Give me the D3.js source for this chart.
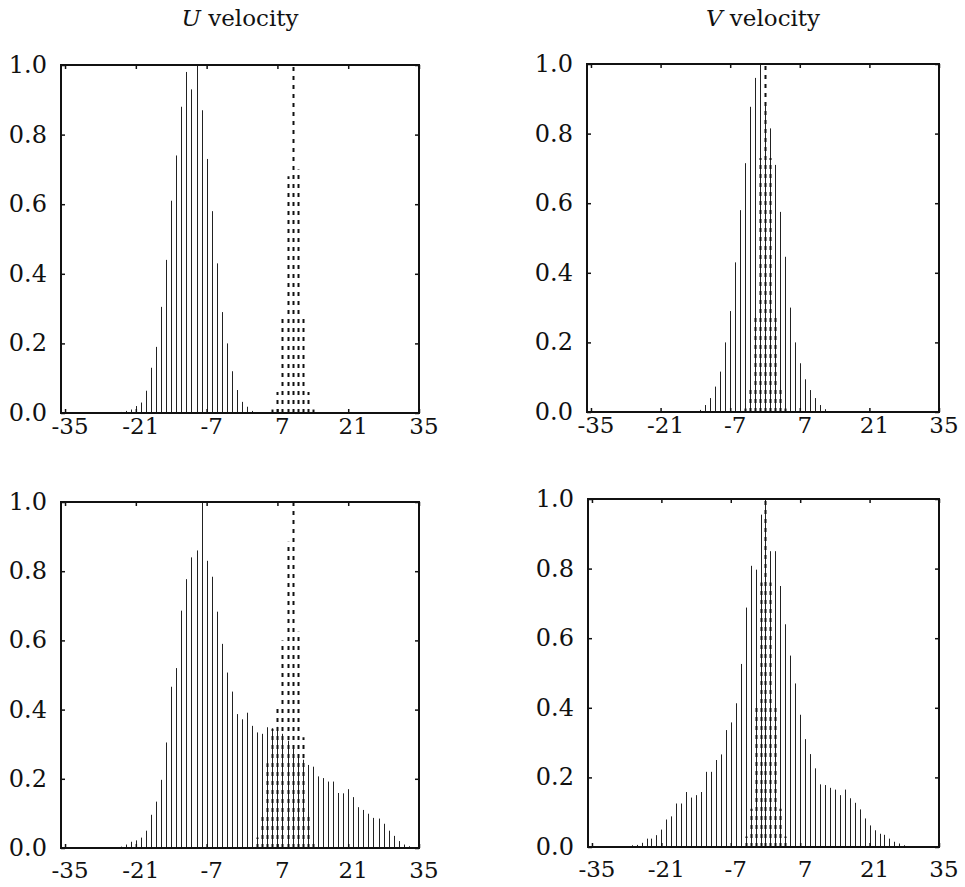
<!DOCTYPE html>
<html>
<head>
<meta charset="utf-8">
<script src="https://cdn.jsdelivr.net/npm/d3@7"></script>
<style>
  body { margin: 0; background: #fff; }
  svg text { font-family: "DejaVu Serif", "Liberation Serif", serif; fill: #111; }
</style>
</head>
<body>
<svg id="chart" width="965" height="887"></svg>
<script>
// tick labels
const xTicks = [-35, -21, -7, 7, 21, 35];
const yTicks = [0, 0.2, 0.4, 0.6, 0.8, 1.0];

// U velocity, top: solid histogram (bins start at -24) and dashed one (start at 6)
const uTopSolidStart = -24;
const uTopSolid = [0.003, 0.006, 0.01, 0.02, 0.03, 0.064, 0.13, 0.19, 0.305, 0.44, 0.61, 0.74,
  0.88, 0.98, 0.93, 1.0, 0.87, 0.73, 0.58, 0.43, 0.29, 0.2, 0.12, 0.066, 0.032, 0.018, 0.006];
const uTopDashStart = 6;
const uTopDash = [0.01, 0.06, 0.27, 0.68, 1.0, 0.70, 0.27, 0.06, 0.01];

// V velocity, top
const vTopSolidStart = -13;
const vTopSolid = [0.006, 0.02, 0.04, 0.073, 0.116, 0.2, 0.29, 0.43, 0.58, 0.715, 0.877, 0.96,
  1.0, 0.89, 0.815, 0.71, 0.575, 0.446, 0.30, 0.20, 0.14, 0.094, 0.063, 0.04, 0.02, 0.008];
const vTopDashStart = -4;
const vTopDash = [0.01, 0.07, 0.28, 0.73, 1.0, 0.73, 0.28, 0.07, 0.01];

// U velocity, bottom
const uBotSolidStart = -24;
const uBotSolid = [0.004, 0.01, 0.018, 0.022, 0.03, 0.05, 0.096, 0.134, 0.197, 0.305, 0.466, 0.52,
  0.686, 0.777, 0.84, 0.86, 1.0, 0.83, 0.784, 0.683, 0.59, 0.507, 0.452, 0.387, 0.372, 0.391,
  0.353, 0.334, 0.33, 0.349, 0.346, 0.35, 0.33, 0.31, 0.29, 0.265, 0.255, 0.24, 0.235, 0.207,
  0.202, 0.192, 0.192, 0.159, 0.158, 0.17, 0.147, 0.118, 0.11, 0.099, 0.087, 0.085, 0.07, 0.05,
  0.035, 0.02, 0.01, 0.005];
const uBotDashStart = 3;
const uBotDash = [0.03, 0.10, 0.245, 0.345, 0.415, 0.60, 0.885, 1.0, 0.625, 0.32, 0.09, 0.02];

// V velocity, bottom
const vBotSolidStart = -27;
const vBotSolid = [0.005, 0.006, 0.012, 0.024, 0.024, 0.034, 0.05, 0.079, 0.088, 0.125, 0.125,
  0.158, 0.142, 0.149, 0.158, 0.216, 0.216, 0.25, 0.266, 0.336, 0.358, 0.413, 0.526, 0.688, 0.808,
  0.797, 0.955, 1.0, 0.85, 0.85, 0.75, 0.64, 0.55, 0.47, 0.38, 0.31, 0.267, 0.226, 0.18, 0.178,
  0.17, 0.165, 0.149, 0.165, 0.14, 0.127, 0.108, 0.082, 0.062, 0.048, 0.038, 0.035, 0.024, 0.015,
  0.01, 0.005];
const vBotDashStart = -4;
const vBotDash = [0.03, 0.11, 0.40, 0.76, 1.0, 0.76, 0.40, 0.11, 0.03];

const toBins = (start, vals) => vals.map((v, i) => ({ x: start + i, v: v }));

const panels = [
  { title: 'U', x0: 61, x1: 419, y0: 65, y1: 413, labDy: 21,
    solid: toBins(uTopSolidStart, uTopSolid), dash: toBins(uTopDashStart, uTopDash) },
  { title: 'V', x0: 587, x1: 939, y0: 64, y1: 412, labDy: 21,
    solid: toBins(vTopSolidStart, vTopSolid), dash: toBins(vTopDashStart, vTopDash) },
  { title: null, x0: 61, x1: 419, y0: 502, y1: 848, labDy: 30,
    solid: toBins(uBotSolidStart, uBotSolid), dash: toBins(uBotDashStart, uBotDash) },
  { title: null, x0: 588, x1: 939, y0: 499, y1: 847, labDy: 30,
    solid: toBins(vBotSolidStart, vBotSolid), dash: toBins(vBotDashStart, vBotDash) }
];

const svg = d3.select('#chart');

function drawPanel(p) {
  const x = d3.scaleLinear().domain([-35.8, 35]).range([p.x0, p.x1]);
  const y = d3.scaleLinear().domain([0, 1]).range([p.y1, p.y0]);
  const g = svg.append('g');

  // solid histogram lines
  g.selectAll('line.solid')
    .data(p.solid)
    .enter().append('line')
    .attr('class', 'solid')
    .attr('x1', d => Math.round(x(d.x)) + 0.5)
    .attr('x2', d => Math.round(x(d.x)) + 0.5)
    .attr('y1', y(0))
    .attr('y2', d => y(d.v))
    .attr('stroke', '#222')
    .attr('stroke-width', 1);

  // dashed histogram lines, dashes start at the baseline so they line up
  g.selectAll('line.dash')
    .data(p.dash)
    .enter().append('line')
    .attr('class', 'dash')
    .attr('x1', d => Math.round(x(d.x)) + 0.5)
    .attr('x2', d => Math.round(x(d.x)) + 0.5)
    .attr('y1', y(0))
    .attr('y2', d => y(d.v))
    .attr('stroke', '#111')
    .attr('stroke-width', 2)
    .attr('stroke-dasharray', '4,5');

  // frame
  g.append('rect')
    .attr('x', p.x0).attr('y', p.y0)
    .attr('width', p.x1 - p.x0).attr('height', p.y1 - p.y0)
    .attr('fill', 'none')
    .attr('stroke', '#111')
    .attr('stroke-width', 2);

  // inward ticks on all four sides
  const bottom = g.append('g').attr('transform', `translate(0,${p.y1})`)
    .call(d3.axisTop(x).tickValues(xTicks).tickSize(4).tickFormat(''));
  const top = g.append('g').attr('transform', `translate(0,${p.y0})`)
    .call(d3.axisBottom(x).tickValues(xTicks).tickSize(4).tickFormat(''));
  const left = g.append('g').attr('transform', `translate(${p.x0},0)`)
    .call(d3.axisRight(y).tickValues(yTicks).tickSize(4).tickFormat(''));
  const right = g.append('g').attr('transform', `translate(${p.x1},0)`)
    .call(d3.axisLeft(y).tickValues(yTicks).tickSize(4).tickFormat(''));
  [bottom, top, left, right].forEach(a => {
    a.select('.domain').remove();
    a.selectAll('line').attr('stroke', '#111').attr('stroke-width', 1.5);
  });

  // tick labels
  g.selectAll('text.xl')
    .data(xTicks)
    .enter().append('text')
    .attr('class', 'xl')
    .attr('x', d => x(d) + 5)
    .attr('y', p.y1 + p.labDy)
    .attr('text-anchor', 'middle')
    .attr('font-size', 23)
    .text(d => d);

  g.selectAll('text.yl')
    .data(yTicks)
    .enter().append('text')
    .attr('class', 'yl')
    .attr('x', p.x0 - 14)
    .attr('y', d => y(d) + 8)
    .attr('text-anchor', 'end')
    .attr('font-size', 24)
    .text(d => d.toFixed(1));

  if (p.title) {
    const t = g.append('text')
      .attr('x', (p.x0 + p.x1) / 2)
      .attr('y', 26)
      .attr('text-anchor', 'middle')
      .attr('font-size', 23);
    t.append('tspan').attr('font-style', 'italic').text(p.title);
    t.append('tspan').text(' velocity');
  }
}

panels.forEach(drawPanel);
</script>
</body>
</html>
